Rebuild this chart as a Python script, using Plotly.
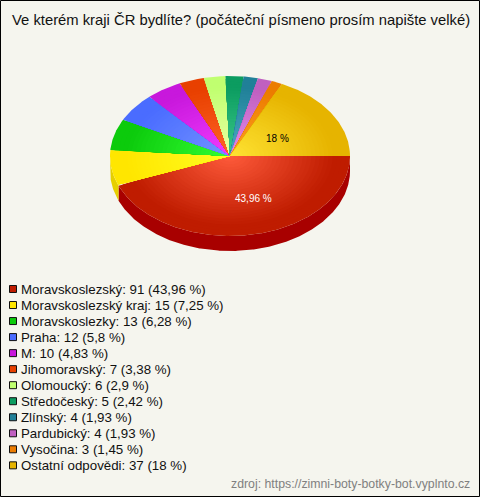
import math
import plotly.graph_objects as go

title = "Ve kterém kraji ČR bydlíte? (počáteční písmeno prosím napište velké)"
categories = ["Moravskoslezský", "Moravskoslezský kraj", "Moravskoslezky", "Praha", "M",
              "Jihomoravský", "Olomoucký", "Středočeský", "Zlínský", "Pardubický",
              "Vysočina", "Ostatní odpovědi"]
values = [91, 15, 13, 12, 10, 7, 6, 5, 4, 4, 3, 37]
percents = ["43,96", "7,25", "6,28", "5,8", "4,83", "3,38", "2,9", "2,42", "1,93", "1,93", "1,45", "18"]
edge_colors = ["#bf1c00", "#ffe600", "#0ccb0c", "#4a6cff", "#c818dc", "#e84000",
               "#c0ff70", "#0c9c60", "#208098", "#c060c0", "#ec7c00", "#e6b400"]
center_colors = ["#ff5c3c", "#ffff22", "#34ff34", "#7494ff", "#f23cff", "#ff6628",
                 "#ecffa4", "#3cca8c", "#4cacc4", "#e48cec", "#ffa024", "#ffe434"]
side_colors = ["#a80000", "#e6cf00"]
source = "zdroj: https://zimni-boty-botky-bot.vyplnto.cz"

W, H = 480, 497
BG = "#f5f5ee"
CX, CY, RX, RY, DEPTH = 230, 156, 120, 80, 15
LEVELS = 28
SHADE_END = 0.88


def hex_rgb(c):
    return [int(c[i:i + 2], 16) for i in (1, 3, 5)]


def mix(a, b, t):
    ra, rb = hex_rgb(a), hex_rgb(b)
    return "rgb(%d,%d,%d)" % tuple(round(x + (y - x) * t) for x, y in zip(ra, rb))


fig = go.Figure()
total = sum(values)


def poly(xs, ys, color):
    fig.add_trace(go.Scatter(x=xs, y=ys, mode="lines", fill="toself", fillcolor=color,
                             line=dict(width=0), hoverinfo="skip", showlegend=False))


# side wall, only the front half of the ellipse is visible
start = 0.0
for i, v in enumerate(values):
    end = start + v / total * 360
    a0, a1 = max(start, 0), min(end, 180)
    if a1 > a0:
        n = max(3, int(a1 - a0) * 2)
        angs = [math.radians(a0 + (a1 - a0) * k / n) for k in range(n + 1)]
        top_x = [CX + RX * math.cos(a) for a in angs]
        top_y = [CY + RY * math.sin(a) for a in angs]
        poly(top_x + top_x[::-1], top_y + [y + DEPTH for y in top_y[::-1]], side_colors[min(i, 1)])
    start = end

# top face: each slice drawn as shrinking wedges to give a radial shade
start = 0.0
for i, v in enumerate(values):
    end = start + v / total * 360
    n = max(3, int(end - start) * 2)
    angs = [math.radians(start + (end - start) * k / n) for k in range(n + 1)]
    for lvl in range(LEVELS):
        s = 1 - lvl / LEVELS
        xs = [CX] + [CX + s * RX * math.cos(a) for a in angs] + [CX]
        ys = [CY] + [CY + s * RY * math.sin(a) for a in angs] + [CY]
        poly(xs, ys, mix(edge_colors[i], center_colors[i], max(0.0, 1 - s / SHADE_END)))
    start = end

# legend rows
row_y = [289 + 16.03 * i for i in range(len(categories))]
fig.add_trace(go.Scatter(
    x=[13] * len(categories), y=row_y, mode="markers",
    marker=dict(symbol="square", size=7, color=edge_colors, line=dict(color="#111", width=1)),
    hoverinfo="skip", showlegend=False))

annotations = []
for c, v, p, y in zip(categories, values, percents, row_y):
    annotations.append(dict(x=18.5, y=y, text=f"{c}: {v} ({p} %)", xanchor="left", yanchor="middle",
                            showarrow=False, font=dict(size=13.3, color="#111")))
annotations += [
    dict(x=240.5, y=20, text=title, showarrow=False, xanchor="center", yanchor="middle",
         font=dict(size=14.8, color="#111")),
    dict(x=253, y=198, text="43,96 %", showarrow=False, font=dict(size=10, color="#ffffff")),
    dict(x=277, y=138, text="18 %", showarrow=False, font=dict(size=10, color="#000000")),
    dict(x=471.5, y=484, text=source, showarrow=False, xanchor="right", yanchor="middle",
         font=dict(size=12.3, color="#808080")),
]

fig.update_layout(
    width=W, height=H, margin=dict(l=0, r=0, t=0, b=0), autosize=False,
    paper_bgcolor=BG, plot_bgcolor=BG, showlegend=False,
    font=dict(family="Liberation Sans, Arial, sans-serif"),
    xaxis=dict(range=[0, W], visible=False, fixedrange=True),
    yaxis=dict(range=[H, 0], visible=False, fixedrange=True),
    annotations=annotations,
    shapes=[dict(type="rect", xref="x", yref="y", x0=0.5, y0=0.5, x1=W - 0.5, y1=H - 0.5,
                 line=dict(color="#000", width=1))],
)
fig.write_html("out.html", config=dict(displayModeBar=False),
               post_script="document.documentElement.style.overflow='hidden';document.body.style.margin='0';")
